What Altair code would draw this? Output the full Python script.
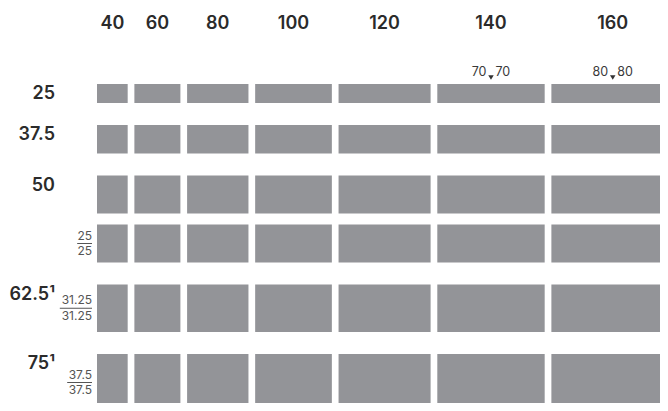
import altair as alt
import pandas as pd

# ---- data -------------------------------------------------------------
columns = [40, 60, 80, 100, 120, 140, 160]
rows = [25, 37.5, 50, 50, 62.5, 75]
row_labels = ["25", "37.5", "50", "", "62.5¹", "75¹"]
frac_num = ["", "", "", "25", "31.25", "37.5"]
frac_den = ["", "", "", "25", "31.25", "37.5"]
ann_cols = [140, 160]
ann_left = ["70", "80"]
ann_right = ["70", "80"]

# ---- layout constants (pixels) ----------------------------------------
W, H = 652, 395
SX, SY = 0.767, 0.76          # px per unit
X0_PX, Y0_PX = 89, 76         # plot position of first block
COL_GAP = 6.7 / SX
ROW_GAP = 22 / SY
SUB_GAP = 11 / SY
tight_before = [False, False, False, True, False, False]
FONT = "Inter"

# column positions from values
xs0, cur = [], 0.0
for c in columns:
    xs0.append(cur)
    cur += c + COL_GAP
col_df = pd.DataFrame({"col": [str(c) for c in columns], "val": columns, "x0": xs0})
col_df["x1"] = col_df["x0"] + col_df["val"]
col_df["xc"] = (col_df["x0"] + col_df["x1"]) / 2

ys0, cur = [], 0.0
for i, r in enumerate(rows):
    if i > 0:
        cur += SUB_GAP if tight_before[i] else ROW_GAP
    ys0.append(cur)
    cur += r
row_df = pd.DataFrame({"label": row_labels, "val": rows, "y0": ys0,
                       "num": frac_num, "den": frac_den})
row_df["y1"] = row_df["y0"] + row_df["val"]
row_df["yc"] = (row_df["y0"] + row_df["y1"]) / 2
row_df["xa"] = 0.0

rect_df = col_df.merge(row_df, how="cross")

def text_w(s):
    return sum(2.6 if ch == "." else 7.4 for ch in s)

frac_df = row_df[row_df["num"] != ""].copy()
frac_df["lx2"] = -5 / SX
frac_df["lx1"] = frac_df["num"].apply(lambda s: -(5 + text_w(s)) / SX)

ann_df = pd.DataFrame({"col": ann_cols, "left": ann_left, "right": ann_right})
ann_df = ann_df.merge(col_df[["val", "xc"]], left_on="col", right_on="val")
ann_df["y"] = 0.0

xscale = alt.Scale(domain=[-X0_PX / SX, (W - X0_PX) / SX], zero=False, nice=False)
yscale = alt.Scale(domain=[-Y0_PX / SY, (H - Y0_PX) / SY], zero=False, nice=False, reverse=True)

rects = alt.Chart(rect_df).mark_rect(color="#939498", clip=True).encode(
    x=alt.X("x0:Q", scale=xscale, axis=None),
    x2="x1:Q",
    y=alt.Y("y0:Q", scale=yscale, axis=None),
    y2="y1:Q",
)

col_df["ytop"] = 0.0
headers = alt.Chart(col_df).mark_text(
    font=FONT, fontSize=18, fontWeight=600, color="#2b2b2b",
    baseline="middle", dy=-60.5,
).encode(x=alt.X("xc:Q", scale=xscale), y=alt.Y("ytop:Q", scale=yscale), text="col:N")

labels = alt.Chart(row_df[row_df["label"] != ""]).mark_text(
    font=FONT, fontSize=18, fontWeight=600, color="#2b2b2b",
    baseline="middle", align="right", dx=-42, dy=10,
).encode(x=alt.X("xa:Q", scale=xscale), y=alt.Y("y0:Q", scale=yscale), text="label:N")

nums = alt.Chart(frac_df).mark_text(
    font=FONT, fontSize=12, color="#555555", baseline="alphabetic",
    align="right", dx=-5, dy=-4,
).encode(x=alt.X("xa:Q", scale=xscale), y=alt.Y("yc:Q", scale=yscale), text="num:N")

dens = alt.Chart(frac_df).mark_text(
    font=FONT, fontSize=12, color="#555555", baseline="alphabetic",
    align="right", dx=-5, dy=11.5,
).encode(x=alt.X("xa:Q", scale=xscale), y=alt.Y("yc:Q", scale=yscale), text="den:N")

lines = alt.Chart(frac_df).mark_rule(color="#555555", strokeWidth=1).encode(
    x=alt.X("lx1:Q", scale=xscale), x2="lx2:Q", y=alt.Y("yc:Q", scale=yscale)
)

ann_l = alt.Chart(ann_df).mark_text(
    font=FONT, fontSize=12.5, color="#3a3a3a", baseline="middle", align="right", dx=-4.5, dy=-12,
).encode(x=alt.X("xc:Q", scale=xscale), y=alt.Y("y:Q", scale=yscale), text="left:N")
ann_r = alt.Chart(ann_df).mark_text(
    font=FONT, fontSize=12.5, color="#3a3a3a", baseline="middle", align="left", dx=4.5, dy=-12,
).encode(x=alt.X("xc:Q", scale=xscale), y=alt.Y("y:Q", scale=yscale), text="right:N")
ann_t = alt.Chart(ann_df).mark_point(
    shape="triangle-down", filled=True, color="#333333", size=30, opacity=1, yOffset=-6.5,
).encode(x=alt.X("xc:Q", scale=xscale), y=alt.Y("y:Q", scale=yscale))

chart = alt.layer(rects, headers, labels, nums, dens, lines, ann_l, ann_r, ann_t).properties(
    width=W, height=H, autosize=alt.AutoSizeParams(type="none"), padding=0,
    background="white",
).configure_view(stroke=None)

chart.save("out.html", embed_options={"renderer": "svg", "actions": False})
